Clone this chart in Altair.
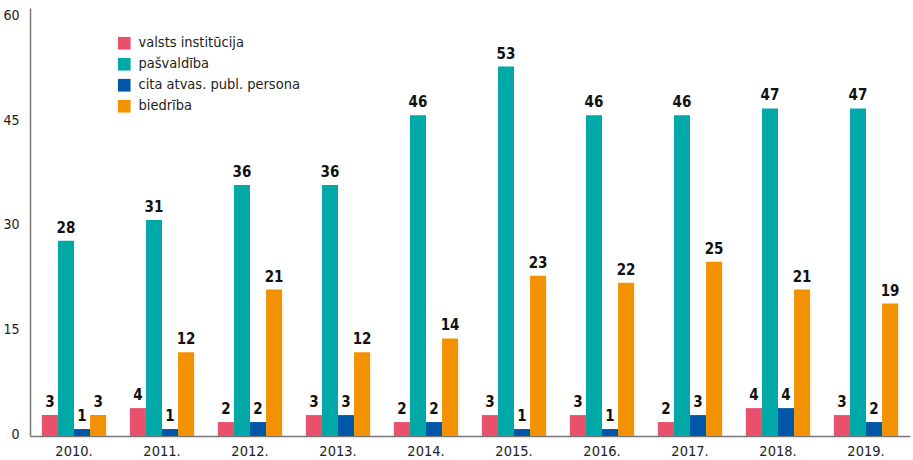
import altair as alt
import pandas as pd

years = ["2010.", "2011.", "2012.", "2013.", "2014.", "2015.", "2016.", "2017.", "2018.", "2019."]
series = ["valsts institūcija", "pašvaldība", "cita atvas. publ. persona", "biedrība"]
colors = ["#E8506E", "#00A9A5", "#0057A8", "#F39200"]
valsts = [3, 4, 2, 3, 2, 3, 3, 2, 4, 3]
pasvaldiba = [28, 31, 36, 36, 46, 53, 46, 46, 47, 47]
cita = [1, 1, 2, 3, 2, 1, 1, 3, 4, 2]
biedriba = [3, 12, 21, 12, 14, 23, 22, 25, 21, 19]

rows = []
for s, vals in zip(series, [valsts, pasvaldiba, cita, biedriba]):
    for y, v in zip(years, vals):
        rows.append({"year": y, "series": s, "value": v})
df = pd.DataFrame(rows)

FONT = "Liberation Sans Narrow, DejaVu Sans Condensed, sans-serif"

base = alt.Chart(df).encode(
    x=alt.X("year:N", sort=years, title=None,
            scale=alt.Scale(paddingInner=0.27, paddingOuter=0.135),
            axis=alt.Axis(labelAngle=0, ticks=False, domainColor="#777", domainWidth=1.5,
                          labelFontSize=14.5, labelColor="#222", labelPadding=8, labelFont=FONT)),
    xOffset=alt.XOffset("series:N", sort=series),
    y=alt.Y("value:Q", title=None,
            scale=alt.Scale(domain=[0, 61.4], nice=False),
            axis=alt.Axis(values=[0, 15, 30, 45, 60], grid=False, ticks=False,
                          domainColor="#777", domainWidth=1.5, labelFontSize=14,
                          labelColor="#222", labelPadding=11, labelFont=FONT,
                          labelOffset=-2)),
)

bars = base.mark_bar().encode(
    color=alt.Color("series:N", sort=series,
                    scale=alt.Scale(domain=series, range=colors),
                    legend=alt.Legend(title=None, orient="none", legendX=87, legendY=28,
                                      symbolType="square", symbolSize=160, symbolStrokeWidth=0,
                                      labelFontSize=14.5, labelFont=FONT, labelColor="#222",
                                      labelOffset=7, labelLimit=0, rowPadding=6, symbolOpacity=1))
)

labels = base.mark_text(dy=-5, baseline="bottom", fontWeight="bold", fontSize=15,
                        font=FONT, color="#111").encode(
    text="value:Q"
)

chart = (bars + labels).properties(
    width=880, height=428,
    autosize=alt.AutoSizeParams(type="none"),
    padding={"left": 30, "top": 8, "right": 3, "bottom": 24},
).configure_view(stroke=None)

chart.save("out.html", embed_options={"renderer": "svg", "actions": False})
